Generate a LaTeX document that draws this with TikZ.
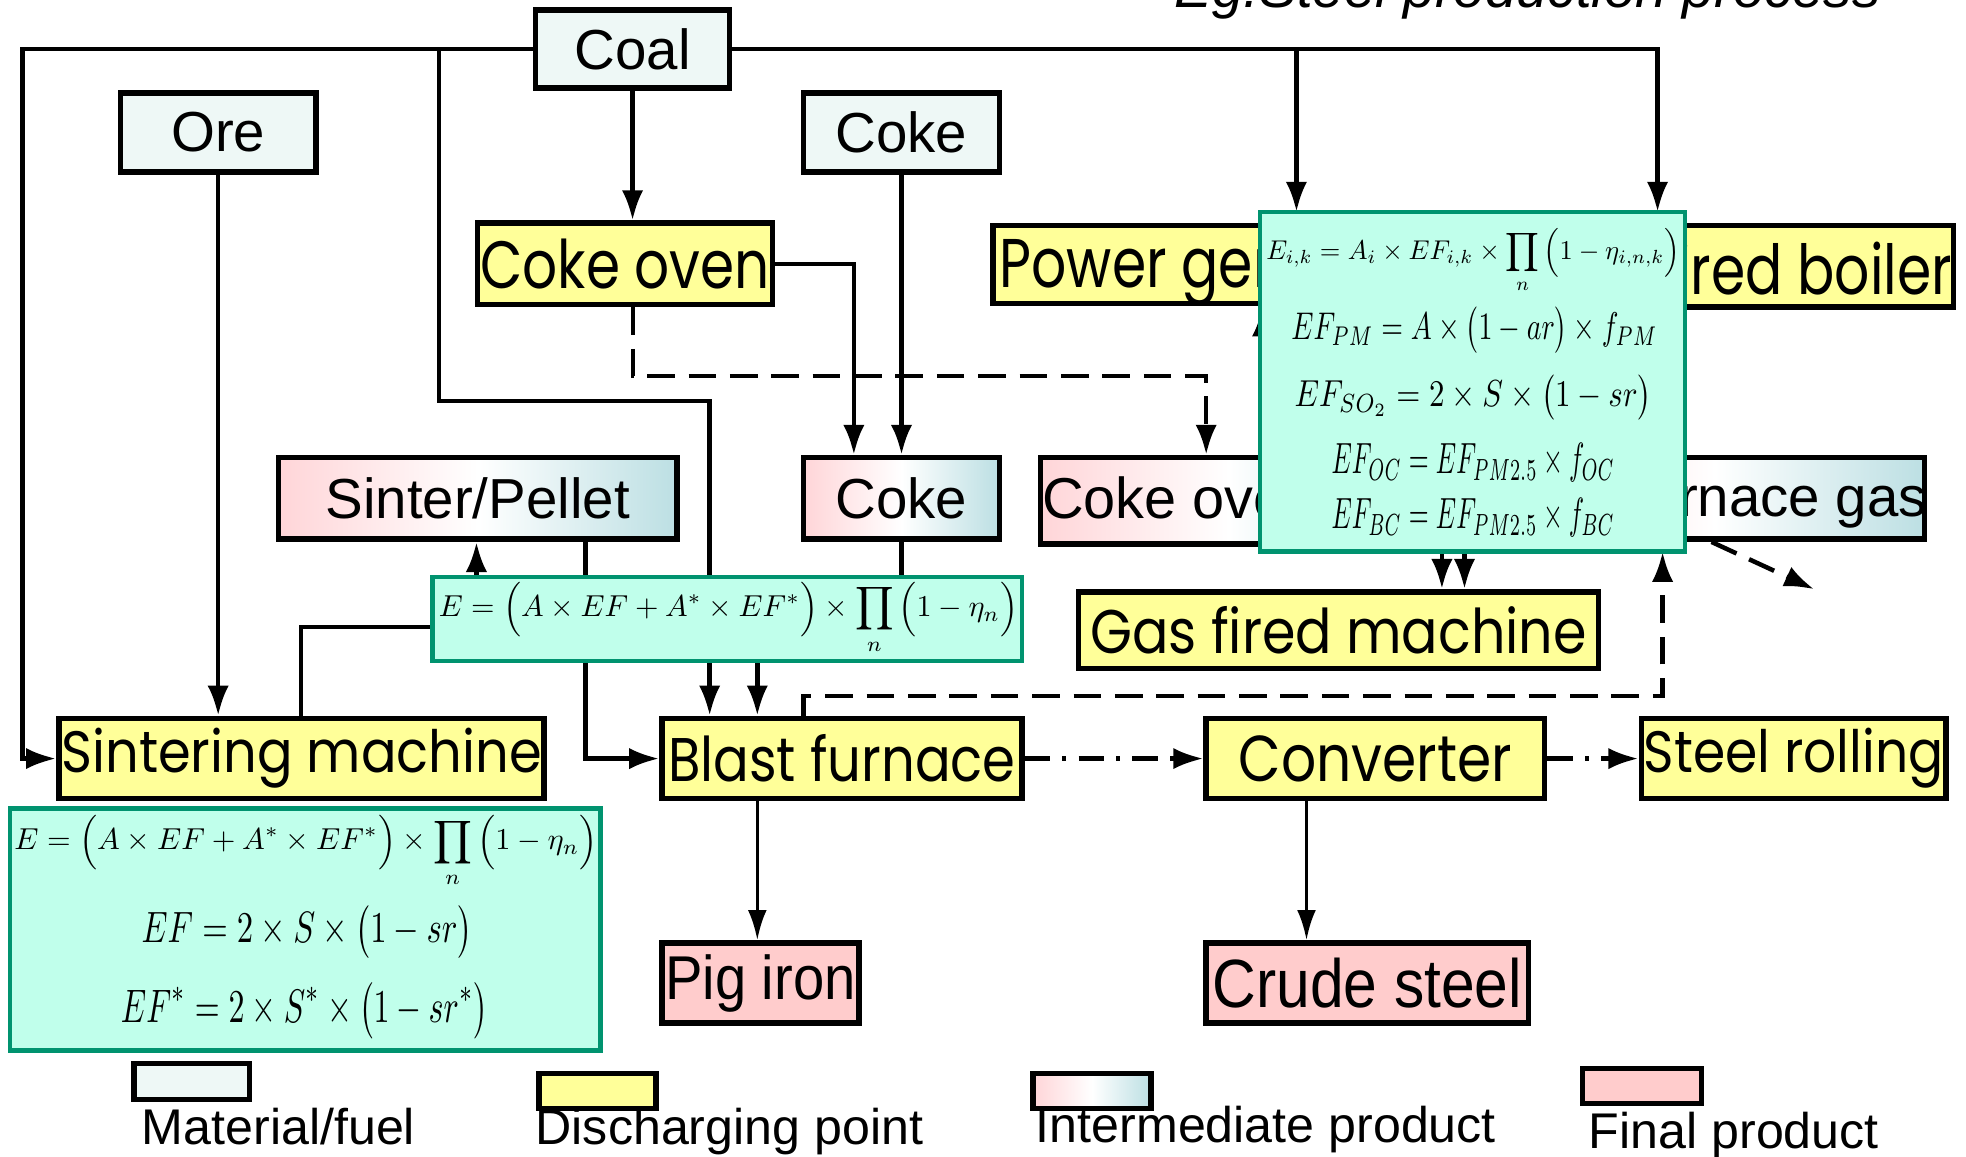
\documentclass[tikz,border=0pt]{standalone}
\usepackage{fontspec}
\usepackage{graphicx}
\setmainfont{Liberation Sans}
\newfontfamily\pop{Poppins}
\usetikzlibrary{arrows.meta}
\definecolor{matc}{HTML}{EEF8F6}
\definecolor{yelc}{HTML}{FFFF99}
\definecolor{pinkc}{HTML}{FFCCCC}
\definecolor{ipink}{HTML}{FFD5D8}
\definecolor{iteal}{HTML}{BCDFE3}
\definecolor{formc}{HTML}{C0FFEB}
\definecolor{formb}{HTML}{00936F}
\newcommand{\fmla}[3]{\resizebox*{#1pt}{#2pt}{$\displaystyle #3$}}
\newcommand{\fitt}[3]{\resizebox*{#1pt}{#2pt}{#3}}
\begin{document}
\begin{tikzpicture}[x=1pt,y=-1pt,
  bx/.style={draw, line width=4.4pt, inner sep=0pt},
  mat/.style={bx, fill=matc, font=\fontsize{45}{45}\selectfont},
  yel/.style={bx, fill=yelc, font=\pop\fontsize{42}{42}\selectfont},
  inter/.style={bx, left color=ipink, right color=iteal, middle color=white, font=\fontsize{45}{45}\selectfont},
  fin/.style={bx, fill=pinkc, font=\fontsize{44}{44}\selectfont},
  frm/.style={draw=formb, fill=formc, line width=3.6pt, inner sep=0pt},
  ftxt/.style={inner sep=0pt},
  ln/.style={line width=3.6pt},
  arr/.style={ln, -{Latex[length=24pt,width=17pt]}},
  arrthin/.style={line width=2.8pt, -{Latex[length=24pt,width=15pt]}},
  dsh/.style={dash pattern=on 22pt off 11pt},
  dshdot/.style={dash pattern=on 20pt off 10pt on 3pt off 10pt},
  lgtext/.style={inner sep=0pt, anchor=base west, font=\fontsize{40}{40}\selectfont},
  hidy/.style={inner sep=0pt, font=\pop\fontsize{44}{44}\selectfont}
]
\useasboundingbox (0,0) rectangle (1568,922);

% title (cut off at top)
\node[inner sep=0pt, anchor=base east, font=\itshape\fontsize{45}{45}\selectfont] (title) at (1500,6) {Eg.Steel production process};

% ---------- boxes ----------
\node[mat, minimum width=155pt, minimum height=62pt] (coal) at (504.5,39) {Coal};
\node[mat, minimum width=156pt, minimum height=63pt] (ore) at (174,105.5) {Ore};
\node[mat, minimum width=156pt, minimum height=63pt] (cokeT) at (719,105.5) {Coke};
\node[yel, minimum width=235pt, minimum height=65pt] (cokeoven) at (498.5,210.5) {\fitt{231}{40}{Coke oven}};
\node[yel, minimum width=330pt, minimum height=62pt] (power) at (957,211) {};
\node[yel, minimum width=318pt, minimum height=65pt] (boiler) at (1399,212.5) {};
\node[inter, minimum width=318pt, minimum height=65pt] (sinter) at (381,397.5) {Sinter/Pellet};
\node[inter, minimum width=156pt, minimum height=65pt] (cokeM) at (719,397.5) {Coke};
\node[inter, minimum width=300pt, minimum height=69pt] (cog) at (980,399.5) {};
\node[inter, minimum width=335pt, minimum height=65pt] (bfg) at (1367.5,397.5) {};
\node[yel, minimum width=415pt, minimum height=61pt] (gfm) at (1067.5,502.5) {\fitt{396}{38}{Gas fired machine}};
\node[yel, minimum width=387pt, minimum height=64pt] (sm) at (240.5,605) {\fitt{383}{48}{Sintering machine}};
\node[yel, minimum width=287pt, minimum height=64pt] (bf) at (671.5,605) {\fitt{277}{38}{Blast furnace}};
\node[yel, minimum width=270pt, minimum height=64pt] (conv) at (1097,605) {\fitt{218}{37}{Converter}};
\node[yel, minimum width=243pt, minimum height=64pt] (sr) at (1430.5,605) {\fitt{239}{48}{Steel rolling}};
\node[fin, minimum width=157pt, minimum height=64pt] (pig) at (606.5,784) {\fitt{152}{46}{Pig iron}};
\node[fin, minimum width=257pt, minimum height=64pt] (crude) at (1090.5,784) {\fitt{247}{40}{Crude steel}};

% partially hidden labels
\node[hidy, anchor=west] (powert) at (797,216) {\scalebox{1}[1.25]{Power generation}};
\node[hidy, anchor=east] (boilert) at (1557,214) {\scalebox{1}[1.25]{Coal fired boiler}};
\node[inner sep=0pt, anchor=west, font=\fontsize{46}{46}\selectfont] (cogt) at (831,402) {Coke oven gas};
\node[inner sep=0pt, anchor=east, font=\fontsize{45}{45}\selectfont] (bfgt) at (1537,400) {Blast furnace gas};

% ---------- connectors ----------
\draw[arr] (coal.west) -- (18,39) -- (18,605) -- (sm.west);
\draw[arr] (350,39) -- (350,320) -- (566,320) -- (566,0 |- bf.north);
\draw[arr] (coal.south) -- (coal.south |- cokeoven.north);
\draw[arr] (coal.east) -- (1322,39) -- (1322,169);
\draw[arr] (1034,39) -- (1034,169);
\draw[arr] (cokeoven.east) -- (681,0 |- cokeoven.east) -- (681,0 |- cokeM.north);
\draw[arr] (cokeT.south) -- (cokeM.north);
\draw[arr, dsh] (505,0 |- cokeoven.south) -- (505,300) -- (962,300) -- (962,0 |- cog.north);
\draw[arr] (ore.south) -- (ore.south |- sm.north);
\draw[arr] (240,0 |- sm.north) -- (240,500) -- (380,500) -- (380,0 |- sinter.south);
\draw[arr] (467,0 |- sinter.south) -- (467,605) -- (bf.west);
\draw[arr] (cokeM.south) -- (719,490) -- (604,490) -- (604,0 |- bf.north);
\draw[arr, dshdot] (bf.east) -- (conv.west);
\draw[arr, dshdot] (conv.east) -- (sr.west);
\draw[arrthin] (604,0 |- bf.south) -- (604,0 |- pig.north);
\draw[arrthin] (1042,0 |- conv.south) -- (1042,0 |- crude.north);
\draw[arr, dsh] (641,0 |- bf.north) -- (641,555) -- (1326,555) -- (1326,440);
\draw[arr] (1150,440) -- (1150,0 |- gfm.north);
\draw[arr] (1168,440) -- (1168,0 |- gfm.north);
\coordinate (bfgout) at (1447,470);
\draw[arr, dsh] (1365,0 |- bfg.south) -- (bfgout);
\draw[arr] (1007,330) -- (1007,0 |- power.south);

% ---------- formula boxes ----------
\node[frm, minimum width=339pt, minimum height=271pt] (fbig) at (1174.5,304.5) {};
\node[ftxt] (fb1) at (1175,208) {\fmla{330}{52}{E_{i,k} = A_i \times EF_{i,k} \times \prod_{n} \Big(1-\eta_{i,n,k}\Big)}};
\node[ftxt] (fb2) at (1176,263) {\fmla{292}{37}{EF_{PM} = A \times \big(1-ar\big) \times f_{PM}}};
\node[ftxt] (fb3) at (1175,317) {\fmla{285}{36}{EF_{SO_2} = 2 \times S \times \big(1-sr\big)}};
\node[ftxt] (fb4) at (1175,369) {\fmla{226}{31}{EF_{OC} = EF_{PM2.5} \times f_{OC}}};
\node[ftxt] (fb5) at (1175,413) {\fmla{226}{31}{EF_{BC} = EF_{PM2.5} \times f_{BC}}};

\node[frm, minimum width=470pt, minimum height=67pt] (fmid) at (580,493.5) {};
\node[ftxt] (fm1) at (581,493) {\fmla{462}{58}{E = \Big(A \times EF + A^{*} \times EF^{*}\Big) \times \prod_{n} \Big(1-\eta_{n}\Big)}};

\node[frm, minimum width=471pt, minimum height=193pt] (fbl) at (243.5,741.5) {};
\node[ftxt] (fl1) at (244,679) {\fmla{465}{58}{E = \Big(A \times EF + A^{*} \times EF^{*}\Big) \times \prod_{n} \Big(1-\eta_{n}\Big)}};
\node[ftxt] (fl2) at (245,743) {\fmla{264}{42}{EF = 2 \times S \times \big(1-sr\big)}};
\node[ftxt] (fl3) at (243,806) {\fmla{293}{45}{EF^{*} = 2 \times S^{*} \times \big(1-sr^{*}\big)}};

% ---------- legend ----------
\node[bx, fill=matc, minimum width=92pt, minimum height=29pt] (lmat) at (153,862.5) {};
\node[bx, fill=yelc, minimum width=93pt, minimum height=28pt] (lyel) at (476.5,870) {};
\node[bx, left color=ipink, right color=iteal, middle color=white, minimum width=94pt, minimum height=28pt] (lint) at (871,870) {};
\node[bx, fill=pinkc, minimum width=95pt, minimum height=28pt] (lfin) at (1309.5,866) {};
\node[lgtext] (lmatt) at (113,913) {Material/fuel};
\node[lgtext] (lyelt) at (427,913) {Discharging point};
\node[lgtext] (lintt) at (826,911) {Intermediate product};
\node[lgtext] (lfint) at (1267,916) {Final product};
\end{tikzpicture}
\end{document}
